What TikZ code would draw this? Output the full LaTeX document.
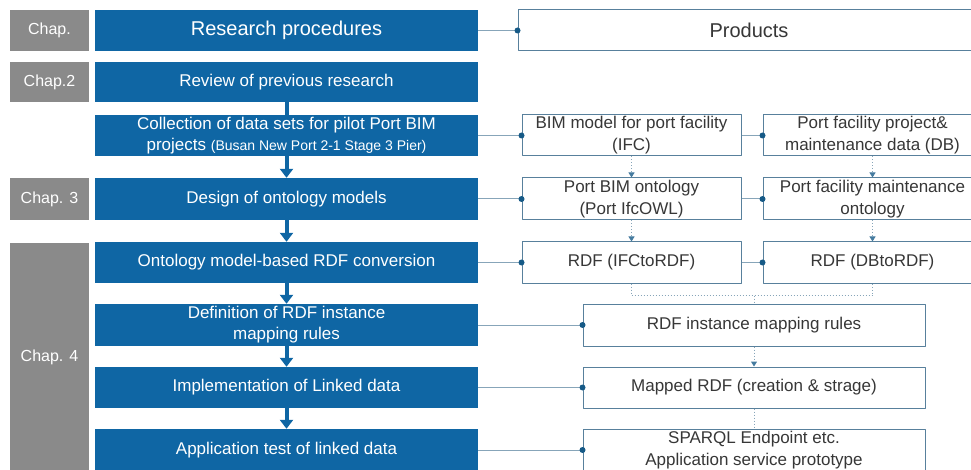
\documentclass[tikz,border=0pt]{standalone}
\usepackage{fontspec}
\setmainfont{Liberation Sans}
\usetikzlibrary{arrows.meta}
\definecolor{stepblue}{RGB}{15,102,164}
\definecolor{chapgrey}{RGB}{138,138,138}
\definecolor{boxline}{RGB}{88,128,156}
\definecolor{linkline}{RGB}{135,165,185}
\definecolor{dotblue}{RGB}{22,90,135}
\definecolor{prodtext}{RGB}{55,55,55}
\begin{document}
\begin{tikzpicture}[x=1pt, y=-1pt, line join=round, >=Stealth,
	chapbox/.style={fill=chapgrey, text=white, minimum width=79pt, inner sep=0pt, font=\fontsize{16}{19}\selectfont},
	stepbox/.style={fill=stepblue, text=white, minimum width=383pt, inner sep=0pt, align=center, font=\fontsize{17}{21}\selectfont},
	prodbox/.style={draw=boxline, line width=1pt, fill=white, text=prodtext, inner sep=0pt, align=center, font=\fontsize{17}{22}\selectfont},
	flow/.style={stepblue, line width=4pt},
	link/.style={linkline, line width=1pt},
	dots/.style={linkline, line width=1pt, dotted},
	tip/.style={-{Triangle[width=6pt,length=5pt,color=dotblue!80]}}]
	\useasboundingbox (0,0) rectangle (971,470);
	\def\xl{286.5} % giữa cột trái
	\def\xr{631.5} % cột phải 1
	\def\xs{872.5} % cột phải 2
	% chương
	\node[chapbox, minimum height=41pt] (c1) at (49.5,30.5) {Chap.};
	\node[chapbox, minimum height=40pt] (c2) at (49.5,82) {Chap.2};
	\node[chapbox, minimum height=42pt] (c3) at (49.5,199) {Chap. 3};
	\node[chapbox, minimum height=228pt] (c4) at (49.5,357) {Chap. 4};
	% các bước
	\node[stepbox, minimum height=41pt, font=\fontsize{20}{24}\selectfont] (proc) at (\xl,30.5) {Research procedures};
	\node[stepbox, minimum height=40pt] (rev) at (\xl,82) {Review of previous research};
	\node[stepbox, minimum height=41pt] (coll) at (\xl,135.5) {Collection of data sets for pilot Port BIM\\projects {\fontsize{14}{21}\selectfont(Busan New Port 2-1 Stage 3 Pier)}};
	\node[stepbox, minimum height=42pt] (des) at (\xl,199) {Design of ontology models};
	\node[stepbox, minimum height=41pt] (conv) at (\xl,262.5) {Ontology model-based RDF conversion};
	\node[stepbox, minimum height=42pt] (def) at (\xl,325) {Definition of RDF instance\\mapping rules};
	\node[stepbox, minimum height=41pt] (impl) at (\xl,387.5) {Implementation of Linked data};
	\node[stepbox, minimum height=42pt] (app) at (\xl,450) {Application test of linked data};
	% sản phẩm
	\node[prodbox, minimum width=462pt, minimum height=41pt, font=\fontsize{20}{24}\selectfont] (prod) at (749,30.5) {Products};
	\node[prodbox, minimum width=219pt, minimum height=41pt] (bim) at (\xr,135.5) {BIM model for port facility\\(IFC)};
	\node[prodbox, minimum width=219pt, minimum height=41pt] (pfd) at (\xs,135.5) {Port facility project\&\\maintenance data (DB)};
	\node[prodbox, minimum width=219pt, minimum height=42pt] (ont) at (\xr,199) {Port BIM ontology\\(Port IfcOWL)};
	\node[prodbox, minimum width=219pt, minimum height=42pt] (pfo) at (\xs,199) {Port facility maintenance\\ontology};
	\node[prodbox, minimum width=219pt, minimum height=41pt] (rdfa) at (\xr,262.5) {RDF (IFCtoRDF)};
	\node[prodbox, minimum width=219pt, minimum height=41pt] (rdfb) at (\xs,262.5) {RDF (DBtoRDF)};
	\node[prodbox, minimum width=342pt, minimum height=42pt] (map) at (754,325) {RDF instance mapping rules};
	\node[prodbox, minimum width=342pt, minimum height=41pt] (mrdf) at (754,387.5) {Mapped RDF (creation \& strage)};
	\node[prodbox, minimum width=342pt, minimum height=42pt] (spq) at (754,450) {SPARQL Endpoint etc.\\Application service prototype};
	% mũi tên xanh
	\draw[flow] (rev.south) -- (coll.north);
	\foreach \a/\b in {coll/des, des/conv, conv/def, def/impl, impl/app}
		\draw[flow, -{Triangle[width=13pt,length=9pt]}] (\a.south) -- (\b.north);
	% nối ngang
	\foreach \a/\b in {proc/prod, coll/bim, bim/pfd, des/ont, ont/pfo, conv/rdfa, rdfa/rdfb, def/map, impl/mrdf, app/spq}{
		\draw[link] (\a.east) -- (\b.west);
		\fill[dotblue] (\b.west) circle (3pt);
	}
	% nối chấm
	\foreach \a/\b in {bim/ont, pfd/pfo, ont/rdfa, pfo/rdfb, map/mrdf}
		\draw[dots, tip] (\a.south) -- (\b.north);
	\draw[dots] (rdfa.south) -- ++(0,12) coordinate (jn) -| (rdfb.south);
	\draw[dots] (jn -| map.north) -- (map.north);
	\draw[dots] (mrdf.south) -- (spq.north);
\end{tikzpicture}
\end{document}
